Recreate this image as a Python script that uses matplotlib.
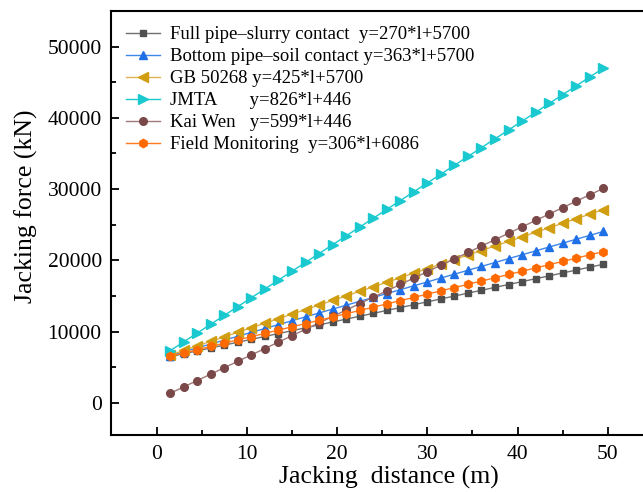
import matplotlib
matplotlib.use("Agg")
import matplotlib.pyplot as plt
from matplotlib.ticker import MultipleLocator

# ---- Data (l = 1.5 m per pipe) ----
distance = [1.5, 3.0, 4.5, 6.0, 7.5, 9.0, 10.5, 12.0, 13.5, 15.0, 16.5,
            18.0, 19.5, 21.0, 22.5, 24.0, 25.5, 27.0, 28.5, 30.0, 31.5,
            33.0, 34.5, 36.0, 37.5, 39.0, 40.5, 42.0, 43.5, 45.0, 46.5,
            48.0, 49.5]

full_pipe = [6491, 6896, 7301, 7706, 8111, 8516, 8921, 9326, 9731, 10136,
             10541, 10946, 11351, 11756, 12161, 12566, 12971, 13376, 13781,
             14186, 14591, 14996, 15401, 15806, 16211, 16616, 17021, 17426,
             17831, 18236, 18641, 19046, 19451]
bottom_pipe = [6631, 7175, 7720, 8264, 8809, 9353, 9898, 10442, 10987, 11531,
               12076, 12620, 13165, 13709, 14254, 14798, 15343, 15887, 16432,
               16976, 17521, 18065, 18610, 19154, 19699, 20243, 20788, 21332,
               21877, 22421, 22966, 23510, 24055]
gb_50268 = [6724, 7361, 7999, 8636, 9274, 9911, 10549, 11186, 11824, 12461,
            13099, 13736, 14374, 15011, 15649, 16286, 16924, 17561, 18199,
            18836, 19474, 20111, 20749, 21386, 22024, 22661, 23299, 23936,
            24574, 25211, 25849, 26486, 27124]
jmta = [7325, 8564, 9803, 11042, 12281, 13520, 14759, 15998, 17237, 18476,
        19715, 20954, 22193, 23432, 24671, 25910, 27149, 28388, 29627, 30866,
        32105, 33344, 34583, 35822, 37061, 38300, 39539, 40778, 42017, 43256,
        44495, 45734, 46973]
kai_wen = [1345, 2243, 3142, 4040, 4939, 5837, 6736, 7634, 8533, 9431,
           10330, 11228, 12127, 13025, 13924, 14822, 15721, 16619, 17518,
           18416, 19315, 20213, 21112, 22010, 22909, 23807, 24706, 25604,
           26503, 27401, 28300, 29198, 30097]
field = [6545, 7004, 7463, 7922, 8381, 8840, 9299, 9758, 10217, 10676,
         11135, 11594, 12053, 12512, 12971, 13430, 13889, 14348, 14807,
         15266, 15725, 16184, 16643, 17102, 17561, 18020, 18479, 18938,
         19397, 19856, 20315, 20774, 21233]

labels = [
    "Full pipe\u2013slurry contact  y=270*l+5700",
    "Bottom pipe\u2013soil contact y=363*l+5700",
    "GB 50268 y=425*l+5700",
    "JMTA       y=826*l+446",
    "Kai Wen   y=599*l+446",
    "Field Monitoring  y=306*l+6086",
]

plt.rcParams["font.family"] = ["Liberation Serif", "DejaVu Serif"]

fig = plt.figure(figsize=(6.43, 4.92), dpi=100)
ax = fig.add_axes([0.1734, 0.1159, 0.842, 0.8618])

series = [
    (full_pipe, "s", "#4f4f4f", "#707070", 5),
    (bottom_pipe, "^", "#1f6fe6", "#3d86ea", 6),
    (gb_50268, "<", "#d09e10", "#dcb450", 6.5),
    (jmta, ">", "#19c9cf", "#19c9cf", 6.5),
    (kai_wen, "o", "#7a4848", "#a07878", 5.5),
    (field, "h", "#ff6a00", "#ff7a20", 6),
]
for (vals, mk, mc, lc, ms), lab in zip(series, labels):
    ax.plot(distance, vals, color=lc, lw=1.0, marker=mk, ms=ms,
            mfc=mc, mec=mc, label=lab)

ax.set_xlim(-5, 55)
ax.set_ylim(-4500, 55000)
ax.xaxis.set_major_locator(MultipleLocator(10))
ax.xaxis.set_minor_locator(MultipleLocator(5))
ax.yaxis.set_major_locator(MultipleLocator(10000))
ax.yaxis.set_minor_locator(MultipleLocator(5000))
ax.tick_params(which="both", direction="in", width=1.3, labelsize=15.5)
ax.tick_params(which="major", length=6, pad=7)
ax.tick_params(which="minor", length=3.5)
for s in ax.spines.values():
    s.set_linewidth(1.5)

ax.set_xlabel("Jacking  distance (m)", fontsize=18.5)
ax.set_ylabel("Jacking force (kN)", fontsize=18.5)
ax.xaxis.set_label_coords(0.5115, -0.072)
ax.yaxis.set_label_coords(-0.136, 0.54)

ax.legend(loc="upper left", bbox_to_anchor=(0.0, 1.0), frameon=False,
          fontsize=13.5, handlelength=1.8, handletextpad=0.5,
          labelspacing=0.26, borderaxespad=0.5, borderpad=0.3)

fig.savefig("out.png", dpi=100)
